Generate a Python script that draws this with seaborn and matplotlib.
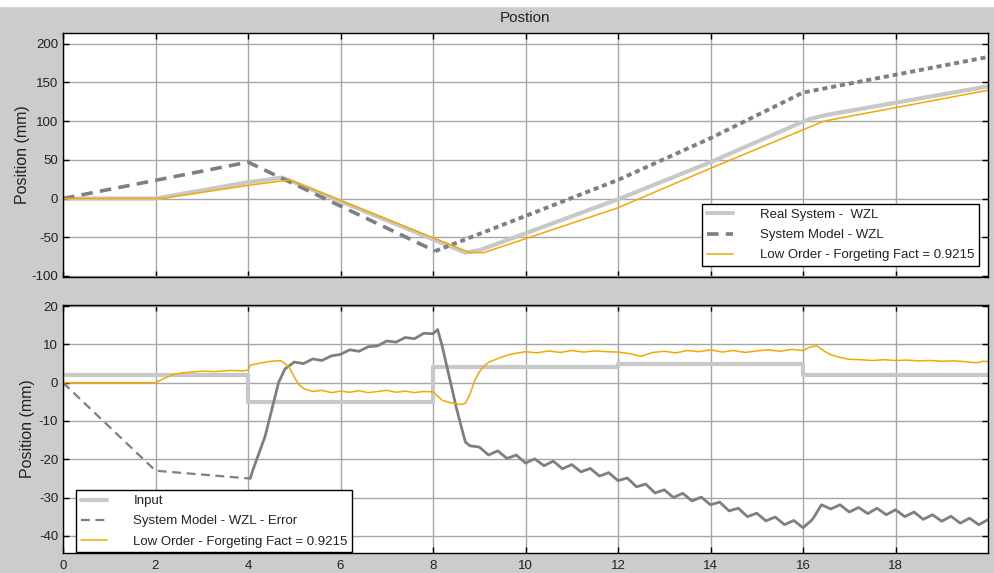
import matplotlib
matplotlib.use("Agg")
import numpy as np
import pandas as pd
import seaborn as sns
import matplotlib.pyplot as plt
from matplotlib.patches import Rectangle

# ---------------- data ----------------
# Top panel: position
real_t = [0, 2, 4, 4.75, 8.7, 9.0, 12, 14, 16.1, 16.5, 20]
real_v = [0, 0, 21, 27, -70, -67, -1, 47, 102, 108, 145]

model_t1 = [0, 4, 8.05]
model_v1 = [0, 47, -68]
model_t2 = [8.05, 12, 14, 16, 20]
model_v2 = [-68, 24, 78, 137, 183]

low_t = [0, 2, 2.2, 4, 4.9, 8.8, 9.1, 12, 14, 16.45, 20]
low_v = [0, 0, 0.5, 17, 24, -70, -70, -12, 39, 100, 140]

# Bottom panel: error
input_t = [0, 4, 8, 12, 16, 20]
input_v = [2, -5, 4, 5, 2, 2]

err_t1 = [0, 2, 4, 4.05]
err_v1 = [0, -23, -25, -25]
err_t2 = [4.05, 4.1, 4.37, 4.66, 4.8, 5.0, 5.2, 5.4, 5.6, 5.8, 6.0, 6.2, 6.4, 6.6, 6.8,
          7.0, 7.2, 7.4, 7.6, 7.8, 8.0, 8.1, 8.2, 8.3, 8.4, 8.5, 8.6, 8.7, 8.8,
          9.0, 9.2, 9.4, 9.6, 9.8, 10.0, 10.2, 10.4, 10.6, 10.8, 11.0, 11.2, 11.4,
          11.6, 11.8, 12.0, 12.2, 12.4, 12.6, 12.8, 13.0, 13.2, 13.4, 13.6, 13.8,
          14.0, 14.2, 14.4, 14.6, 14.8, 15.0, 15.2, 15.4, 15.6, 15.8, 16.0, 16.2,
          16.4, 16.6, 16.8, 17.0, 17.2, 17.4, 17.6, 17.8, 18.0, 18.2, 18.4, 18.6,
          18.8, 19.0, 19.2, 19.4, 19.6, 19.8, 20.0]
err_v2 = [-25, -23, -14, 0, 3.6, 5.4, 5.0, 6.2, 5.8, 7.0, 7.4, 8.6, 8.2, 9.4, 9.6,
          10.9, 10.6, 11.8, 11.5, 12.9, 12.8, 13.9, 9.5, 4.2, -1.0, -6.3, -11.0, -15.5, -16.5,
          -16.8, -18.9, -17.8, -19.8, -18.9, -21.0, -19.9, -21.7, -20.5, -22.5, -21.4, -23.3, -22.4,
          -24.4, -23.5, -25.6, -24.9, -27.2, -26.5, -28.8, -28.0, -30.0, -28.9, -30.9, -29.9,
          -31.9, -31.2, -33.5, -32.8, -35.0, -34.1, -36.1, -35.1, -37.1, -36.0, -37.9, -35.8,
          -31.9, -33.0, -31.9, -33.8, -32.6, -34.2, -32.8, -34.5, -33.2, -35.0, -33.8, -35.7,
          -34.5, -36.2, -34.9, -36.7, -35.4, -37.1, -35.8]

lowerr_t = [0, 2.0, 2.2, 2.4, 2.6, 2.8, 3.0, 3.3, 3.6, 3.9, 4.0, 4.05, 4.3, 4.5, 4.7, 4.8,
            4.9, 5.0, 5.1, 5.2, 5.4, 5.6, 5.8, 6.0, 6.2, 6.4, 6.6, 6.8, 7.0, 7.2, 7.4,
            7.6, 7.8, 8.0, 8.1, 8.2, 8.4, 8.6, 8.7, 8.8, 8.9, 9.0, 9.1, 9.2, 9.4, 9.6,
            9.8, 10.0, 10.25, 10.5, 10.75, 11.0, 11.25, 11.5, 11.75, 12.0, 12.25, 12.5,
            12.75, 13.0, 13.25, 13.5, 13.75, 14.0, 14.25, 14.5, 14.75, 15.0, 15.25, 15.5,
            15.75, 16.0, 16.15, 16.3, 16.45, 16.6, 16.8, 17.0, 17.25, 17.5, 17.75, 18.0,
            18.25, 18.5, 18.75, 19.0, 19.25, 19.5, 19.75, 19.9, 20.0]
lowerr_v = [0, 0, 1.2, 2.2, 2.6, 2.8, 3.0, 2.9, 3.2, 3.1, 3.3, 4.6, 5.2, 5.6, 5.8, 5.0,
            3.8, 1.5, -0.5, -1.5, -2.3, -2.0, -2.6, -2.2, -2.5, -2.1, -2.6, -2.3, -2.0, -2.5, -2.2,
            -2.6, -2.3, -2.4, -3.5, -4.6, -5.3, -5.7, -5.4, -3.0, 0.5, 2.8, 4.3, 5.3, 6.3, 7.2,
            7.7, 8.1, 7.8, 8.3, 7.9, 8.4, 8.0, 8.3, 8.1, 8.0, 7.6, 6.9,
            7.9, 8.2, 7.8, 8.4, 8.1, 8.6, 8.0, 8.4, 7.9, 8.3, 8.6, 8.2,
            8.7, 8.4, 9.3, 9.6, 8.3, 7.3, 6.6, 6.1, 6.0, 5.8, 6.0, 5.8,
            5.9, 5.7, 5.8, 5.6, 5.7, 5.5, 5.2, 5.6, 5.5]

LAB_REAL = "Real System -  WZL"
LAB_MODEL = "System Model - WZL"
LAB_LOW = "Low Order - Forgeting Fact = 0.9215"
LAB_INPUT = "Input"
LAB_ERR = "System Model - WZL - Error"
TITLE = "Postion"
YLABEL = "Position (mm)"

# ---------------- styling ----------------
sns.set_style("white")
plt.rcParams["font.family"] = ["Liberation Sans", "DejaVu Sans"]
plt.rcParams["axes.unicode_minus"] = False

C_LIGHT = "#c8c8c8"
C_DARK = "#7f7f7f"
C_ORANGE = "#f2a900"

fig = plt.figure(figsize=(9.95, 5.73), dpi=100, facecolor="#cccccc")
fig.patches.append(Rectangle((0, 1 - 6 / 573), 1, 6 / 573, transform=fig.transFigure,
                             color="white", zorder=0))

ax1 = fig.add_axes([63 / 995, 1 - 277 / 573, 925 / 995, 244 / 573])
ax2 = fig.add_axes([63 / 995, 1 - 553 / 573, 925 / 995, 248 / 573])

# Top panel
sns.lineplot(data=pd.DataFrame({"t": real_t, "v": real_v}), x="t", y="v", ax=ax1,
             color=C_LIGHT, linewidth=3, label=LAB_REAL, estimator=None, sort=False)
sns.lineplot(data=pd.DataFrame({"t": model_t1, "v": model_v1}), x="t", y="v", ax=ax1,
             color=C_DARK, linewidth=2.6, linestyle=(0, (3.2, 2.0)), label=LAB_MODEL,
             estimator=None, sort=False)
sns.lineplot(data=pd.DataFrame({"t": model_t2, "v": model_v2}), x="t", y="v", ax=ax1,
             color=C_DARK, linewidth=2.8, linestyle=(0, (1.3, 1.0)),
             estimator=None, sort=False, legend=False)
sns.lineplot(data=pd.DataFrame({"t": low_t, "v": low_v}), x="t", y="v", ax=ax1,
             color=C_ORANGE, linewidth=1.1, label=LAB_LOW, estimator=None, sort=False)

# Bottom panel
sns.lineplot(data=pd.DataFrame({"t": input_t, "v": input_v}), x="t", y="v", ax=ax2,
             color=C_LIGHT, linewidth=3, drawstyle="steps-post", label=LAB_INPUT,
             estimator=None, sort=False)
sns.lineplot(data=pd.DataFrame({"t": err_t1, "v": err_v1}), x="t", y="v", ax=ax2,
             color=C_DARK, linewidth=1.6, linestyle=(0, (4, 2.5)), label=LAB_ERR,
             estimator=None, sort=False)
sns.lineplot(data=pd.DataFrame({"t": err_t2, "v": err_v2}), x="t", y="v", ax=ax2,
             color=C_DARK, linewidth=2.0, estimator=None, sort=False, legend=False)
sns.lineplot(data=pd.DataFrame({"t": lowerr_t, "v": lowerr_v}), x="t", y="v", ax=ax2,
             color=C_ORANGE, linewidth=1.1, label=LAB_LOW, estimator=None, sort=False)

for ax in (ax1, ax2):
    ax.set_facecolor("white")
    ax.set_xlim(0, 20)
    ax.set_xticks(np.arange(0, 19, 2))
    ax.grid(True, color="#a6a6a6", linewidth=1.0)
    ax.set_axisbelow(True)
    for s in ax.spines.values():
        s.set_color("black")
        s.set_linewidth(1.0)
        s.set_visible(True)
    ax.tick_params(direction="in", length=4, width=1, color="black", labelsize=9.5,
                   top=True, right=True, left=True, bottom=True, labelcolor="#222222")
    ax.set_xlabel("")
    ax.set_ylabel(YLABEL, fontsize=11.5, color="#222222")

ax1.yaxis.set_label_coords(-0.036, 0.5)
ax2.yaxis.set_label_coords(-0.030, 0.5)

ax1.set_ylim(-101.5, 214)
ax1.set_yticks(np.arange(-100, 201, 50))
ax1.tick_params(labelbottom=False)
ax1.set_title(TITLE, fontsize=11, pad=8, color="#222222")

ax2.set_ylim(-44.5, 20.3)
ax2.set_yticks(np.arange(-40, 21, 10))
ax2.tick_params(axis="x", pad=5)

leg_kw = dict(frameon=True, fancybox=False, shadow=False, fontsize=9.5, borderaxespad=0,
              handlelength=2.0, handletextpad=2.0, labelspacing=0.6, borderpad=0.35,
              edgecolor="black", framealpha=1)
l1 = ax1.legend(loc="lower right", bbox_to_anchor=(0.99, 0.045), **leg_kw)
l2 = ax2.legend(loc="lower left", bbox_to_anchor=(0.014, 0.003), **leg_kw)
for lg in (l1, l2):
    lg.get_frame().set_linewidth(1.0)
    for t in lg.get_texts():
        t.set_color("#222222")

fig.savefig("out.png", dpi=100, facecolor=fig.get_facecolor())
